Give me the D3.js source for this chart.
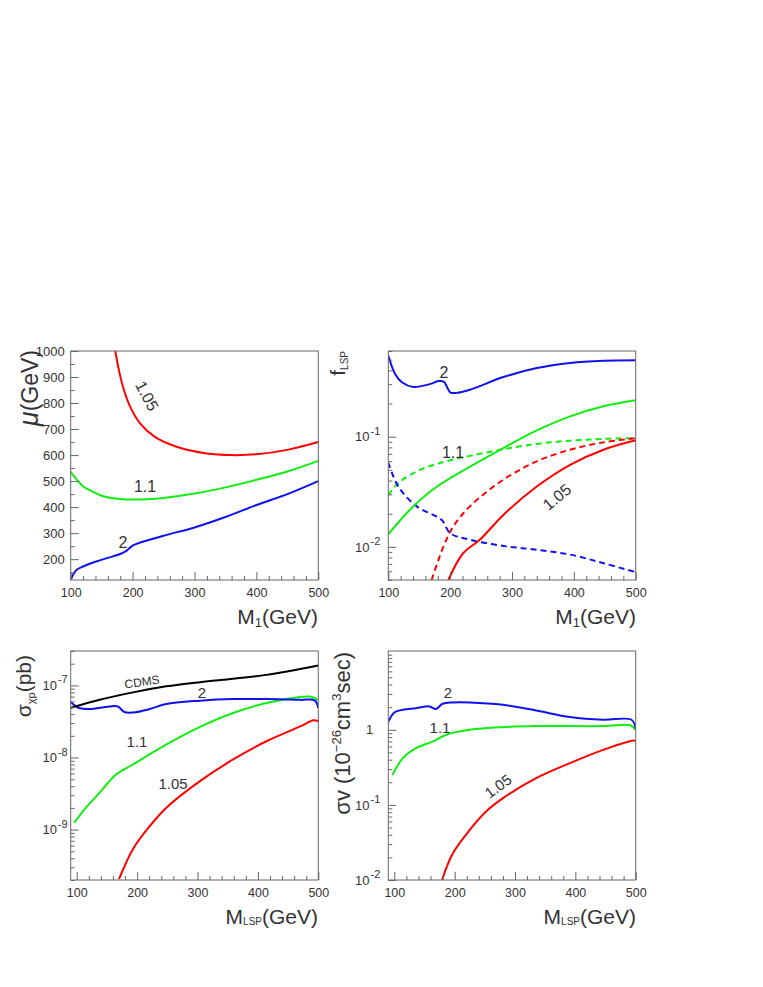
<!DOCTYPE html>
<html lang="en">
<head>
<meta charset="UTF-8">
<title>LSP panels</title>
<script src="https://d3js.org/d3.v7.min.js"></script>
<style>
  body { margin: 0; background: #fff; }
  text { font-family: "Liberation Sans", Arial, Helvetica, sans-serif; fill: #333; }
</style>
</head>
<body>
<div id="chart"></div>
<script>
// ---- data ----
// top-left: mu vs M1
const tlRedX   = [172, 179, 186, 196, 212, 236, 271, 320, 360, 400, 450, 500];
const tlRedY   = [1000, 914, 850, 786, 722, 670, 632, 606, 600, 603, 620, 650];
const tlGreenX = [100, 110, 120, 135, 150, 175, 200, 225, 250, 300, 350, 400, 450, 500];
const tlGreenY = [536, 505, 480, 460, 444, 432, 429, 430, 435, 452, 476, 505, 537, 578];
const tlBlueX  = [100, 105, 110, 120, 140, 160, 180, 190, 200, 210, 250, 300, 350, 400, 450, 500];
const tlBlueY  = [120, 145, 160, 172, 190, 205, 220, 232, 252, 262, 290, 322, 362, 408, 450, 500];

// top-right: f_LSP vs M1 (solid / dashed)
const trBlueX     = [100, 111, 122, 140, 167, 181, 190, 200, 210, 232, 286, 340, 394, 448, 500];
const trBlueY     = [0.545, 0.371, 0.312, 0.283, 0.300, 0.320, 0.315, 0.253, 0.250, 0.267, 0.348, 0.420, 0.468, 0.490, 0.495];
const trGreenX    = [100, 135, 170, 205, 286, 340, 394, 448, 500];
const trGreenY    = [0.013, 0.0217, 0.0325, 0.0436, 0.0789, 0.114, 0.153, 0.189, 0.214];
const trRedX      = [197, 221, 248, 286, 340, 394, 448, 500];
const trRedY      = [0.005, 0.00875, 0.0116, 0.0195, 0.0353, 0.0556, 0.0762, 0.0927];
const trBlueDashX  = [100, 116, 146, 186, 200, 232, 286, 340, 394, 448, 500];
const trBlueDashY  = [0.0584, 0.0354, 0.0233, 0.0176, 0.0133, 0.0116, 0.0102, 0.0094, 0.0085, 0.0071, 0.0059];
const trGreenDashX = [100, 112, 124, 151, 178, 205, 232, 286, 340, 394, 448, 500];
const trGreenDashY = [0.0295, 0.036, 0.041, 0.050, 0.0565, 0.062, 0.067, 0.077, 0.086, 0.092, 0.0955, 0.097];
const trRedDashX   = [170, 189, 205, 232, 286, 340, 394, 448, 500];
const trRedDashY   = [0.005, 0.010, 0.0153, 0.0233, 0.0407, 0.0597, 0.0762, 0.0889, 0.097];

// bottom-left: sigma_chi-p vs M_LSP
const blCdmsX  = [89, 138, 193, 248, 304, 359, 414, 500];
const blCdmsY  = [4.86e-8, 6.34e-8, 8.0e-8, 9.7e-8, 1.11e-7, 1.24e-7, 1.40e-7, 1.89e-7];
const blBlueX  = [89, 104, 121, 154, 168, 179, 193, 221, 248, 304, 359, 414, 470, 494, 500];
const blBlueY  = [6.0e-8, 4.86e-8, 4.7e-8, 5.1e-8, 5.1e-8, 4.27e-8, 4.2e-8, 4.7e-8, 5.52e-8, 6.14e-8, 6.47e-8, 6.47e-8, 6.3e-8, 6.2e-8, 4.86e-8];
const blGreenX = [96, 115, 138, 165, 193, 248, 304, 359, 414, 470, 486, 500];
const blGreenY = [1.25e-9, 2.0e-9, 3.25e-9, 5.8e-9, 8.0e-9, 1.51e-8, 2.66e-8, 4.15e-8, 5.7e-8, 6.9e-8, 7.0e-8, 6.3e-8];
const blRedX   = [170, 193, 221, 248, 304, 359, 414, 470, 492, 500];
const blRedY   = [2.06e-10, 5.35e-10, 1.12e-9, 2.0e-9, 4.7e-9, 9.4e-9, 1.68e-8, 2.7e-8, 3.28e-8, 3.18e-8];

// bottom-right: sigma v vs M_LSP
const brBlueX  = [89, 100, 114, 136, 158, 169, 180, 197, 225, 280, 335, 391, 446, 493, 500];
const brBlueY  = [1.23, 1.70, 1.85, 1.94, 2.05, 1.89, 2.22, 2.31, 2.31, 2.15, 1.81, 1.48, 1.36, 1.36, 1.05];
const brGreenX = [97, 114, 136, 164, 186, 225, 280, 335, 446, 491, 500];
const brGreenY = [0.25, 0.42, 0.57, 0.70, 0.86, 1.0, 1.085, 1.12, 1.12, 1.15, 1.0];
const brRedX   = [179, 197, 225, 252, 280, 335, 391, 446, 496, 500];
const brRedY   = [0.01, 0.0227, 0.0464, 0.0815, 0.123, 0.227, 0.36, 0.54, 0.72, 0.71];

const xTicksMajor = [100, 200, 300, 400, 500];
const muTicks = [200, 300, 400, 500, 600, 700, 800, 900, 1000];

// ---- layout ----
const width = 763, height = 987;
const colors = { red: "#ff0000", green: "#11ee11", blue: "#1111ee", black: "#000" };
const frameColor = "#666";

const svg = d3.select("#chart").append("svg")
  .attr("width", width).attr("height", height);

const zip = (xs, ys) => xs.map((v, i) => [v, ys[i]]);

function makePanel(id, xDomain, yScale, box) {
  const x = d3.scaleLinear().domain(xDomain).range([box.x0, box.x1]);
  const y = yScale.range([box.y1, box.y0]);
  const g = svg.append("g").attr("class", "panel-" + id);
  g.append("clipPath").attr("id", "clip-" + id)
    .append("rect")
    .attr("x", box.x0).attr("y", box.y0)
    .attr("width", box.x1 - box.x0).attr("height", box.y1 - box.y0);
  const plot = g.append("g").attr("clip-path", `url(#clip-${id})`);
  return { x, y, g, plot, box };
}

function frame(p) {
  p.g.append("rect")
    .attr("x", p.box.x0).attr("y", p.box.y0)
    .attr("width", p.box.x1 - p.box.x0).attr("height", p.box.y1 - p.box.y0)
    .attr("fill", "none").attr("stroke", frameColor).attr("stroke-width", 1);
}

function styleAxis(sel, size) {
  sel.select(".domain").remove();
  sel.selectAll("line").attr("stroke", frameColor);
  sel.selectAll("text").attr("font-size", size || 12).attr("fill", "#333")
    .attr("font-family", '"Liberation Sans", Arial, sans-serif');
}

function xAxis(p, minor) {
  const yb = p.box.y1;
  p.g.append("g").attr("transform", `translate(0,${yb})`)
    .call(d3.axisBottom(p.x).tickValues(minor).tickSizeInner(-4).tickSizeOuter(0).tickFormat(""))
    .call(styleAxis);
  p.g.append("g").attr("transform", `translate(0,${yb})`)
    .call(d3.axisBottom(p.x).tickValues(xTicksMajor).tickSizeInner(-8).tickSizeOuter(0)
      .tickPadding(8).tickFormat(d3.format("d")))
    .call(styleAxis, 12.5);
}

function yAxisLinear(p, major, minor, pad) {
  const xl = p.box.x0;
  p.g.append("g").attr("transform", `translate(${xl},0)`)
    .call(d3.axisLeft(p.y).tickValues(minor).tickSizeInner(-4).tickSizeOuter(0).tickFormat(""))
    .call(styleAxis);
  p.g.append("g").attr("transform", `translate(${xl},0)`)
    .call(d3.axisLeft(p.y).tickValues(major).tickSizeInner(-8).tickSizeOuter(0)
      .tickPadding(pad).tickFormat(d3.format("d")))
    .call(styleAxis, 13);
}

// log axis: decades get long ticks, only exponents in `labelled` get a text
function yAxisLog(p, pad, labelled) {
  const xl = p.box.x0;
  const all = p.y.ticks(40);
  const isMajor = d => Math.abs(Math.log10(d) - Math.round(Math.log10(d))) < 1e-6;
  const major = all.filter(d => isMajor(d) && labelled.includes(Math.round(Math.log10(d))));
  const minor = all.filter(d => !major.includes(d));
  p.g.append("g").attr("transform", `translate(${xl},0)`)
    .call(d3.axisLeft(p.y).tickValues(minor).tickSizeInner(-4).tickSizeOuter(0).tickFormat(""))
    .call(styleAxis);
  const ax = p.g.append("g").attr("transform", `translate(${xl},0)`)
    .call(d3.axisLeft(p.y).tickValues(major).tickSizeInner(-8).tickSizeOuter(0)
      .tickPadding(pad).tickFormat(""))
    .call(styleAxis, 13);
  ax.selectAll(".tick text").each(function(d) {
    const e = Math.round(Math.log10(d));
    const t = d3.select(this);
    if (e === 0) {
      t.attr("x", -15).text("1");
      return;
    }
    t.text("10");
    t.append("tspan").attr("dx", 1).attr("dy", "-0.6em").attr("font-size", 11).text(e);
  });
}

function curve(p, pts, color, dashed) {
  const line = d3.line()
    .x(d => p.x(d[0])).y(d => p.y(d[1]))
    .curve(d3.curveCatmullRom.alpha(0.5));
  p.plot.append("path")
    .datum(pts)
    .attr("d", line)
    .attr("fill", "none")
    .attr("stroke", color)
    .attr("stroke-width", 2)
    .attr("stroke-dasharray", dashed ? "6,4" : null);
}

function label(x, y, txt, size, angle) {
  svg.append("text")
    .attr("transform", `translate(${x},${y}) rotate(${angle || 0})`)
    .attr("text-anchor", "middle")
    .attr("dominant-baseline", "central")
    .attr("font-size", size)
    .text(txt);
}

// x axis title: main + subscript + (GeV), right aligned
function xTitle(xr, yb, sub) {
  const t = svg.append("text")
    .attr("x", xr).attr("y", yb)
    .attr("text-anchor", "end")
    .attr("font-size", 21);
  t.append("tspan").text("M");
  t.append("tspan").attr("font-size", sub.length > 1 ? 10 : 13).attr("dy", sub.length > 1 ? 1 : 3).text(sub);
  t.append("tspan").attr("dy", sub.length > 1 ? -1 : -3).text("(GeV)");
}

// ---- panels ----
const tl = makePanel("tl", [100, 500], d3.scaleLinear().domain([120, 1000]),
  { x0: 70.7, x1: 318.3, y0: 351, y1: 580 });
const tr = makePanel("tr", [100, 500], d3.scaleLog().domain([0.005, 0.6]),
  { x0: 388.3, x1: 635.7, y0: 351, y1: 580 });
const bl = makePanel("bl", [90, 500], d3.scaleLog().domain([2e-10, 3e-7]),
  { x0: 70.7, x1: 318.3, y0: 651, y1: 880 });
const br = makePanel("br", [90, 500], d3.scaleLog().domain([0.01, 11.2]),
  { x0: 388.3, x1: 635.7, y0: 651, y1: 880 });

const minor20 = d3.range(100, 501, 20).filter(d => d % 100 !== 0);

// top-left
curve(tl, zip(tlRedX, tlRedY), colors.red);
curve(tl, zip(tlGreenX, tlGreenY), colors.green);
curve(tl, zip(tlBlueX, tlBlueY), colors.blue);
frame(tl);
xAxis(tl, minor20);
yAxisLinear(tl, muTicks, d3.range(150, 1000, 100), 6);

// top-right
curve(tr, zip(trGreenDashX, trGreenDashY), colors.green, true);
curve(tr, zip(trRedDashX, trRedDashY), colors.red, true);
curve(tr, zip(trBlueDashX, trBlueDashY), colors.blue, true);
curve(tr, zip(trGreenX, trGreenY), colors.green);
curve(tr, zip(trRedX, trRedY), colors.red);
curve(tr, zip(trBlueX, trBlueY), colors.blue);
frame(tr);
xAxis(tr, minor20);
yAxisLog(tr, 8, [-2, -1]);

// bottom-left
curve(bl, zip(blGreenX, blGreenY), colors.green);
curve(bl, zip(blRedX, blRedY), colors.red);
curve(bl, zip(blBlueX, blBlueY), colors.blue);
curve(bl, zip(blCdmsX, blCdmsY), colors.black);
frame(bl);
xAxis(bl, minor20);
yAxisLog(bl, 3, [-9, -8, -7]);

// bottom-right
curve(br, zip(brRedX, brRedY), colors.red);
curve(br, zip(brGreenX, brGreenY), colors.green);
curve(br, zip(brBlueX, brBlueY), colors.blue);
frame(br);
xAxis(br, minor20);
yAxisLog(br, 8, [-2, -1, 0]);

// curve labels
label(147, 396, "1.05", 16, 62);
label(145, 486, "1.1", 16);
label(123, 542, "2", 16);

label(444, 372, "2", 16);
label(453, 452, "1.1", 16);
label(557, 497, "1.05", 16, -40);

label(142, 682, "CDMS", 12, -8);
label(202, 692, "2", 15);
label(137, 741, "1.1", 15);
label(173, 783, "1.05", 15);

label(448, 692, "2", 15);
label(440, 727, "1.1", 15);
label(498, 786, "1.05", 15, -36);

// axis titles
xTitle(318, 624, "1");
xTitle(636, 624, "1");
xTitle(318, 924, "LSP");
xTitle(636, 924, "LSP");

// y titles (rotated)
const muT = svg.append("text")
  .attr("transform", "translate(38,350) rotate(-90)")
  .attr("text-anchor", "end").attr("font-size", 23);
muT.append("tspan").attr("font-style", "italic").attr("font-size", 27).text("\u03bc");
muT.append("tspan").text("(GeV)");

const fT = svg.append("text")
  .attr("transform", "translate(345,351) rotate(-90)")
  .attr("text-anchor", "end").attr("font-size", 21);
fT.append("tspan").text("f");
fT.append("tspan").attr("font-size", 10).attr("dy", 3).text("LSP");

const sT = svg.append("text")
  .attr("transform", "translate(31,655) rotate(-90)")
  .attr("text-anchor", "end").attr("font-size", 21);
sT.append("tspan").text("\u03c3");
sT.append("tspan").attr("font-size", 11).attr("dy", 4).text("\u03c7p");
sT.append("tspan").attr("dy", -4).text("(pb)");

const vT = svg.append("text")
  .attr("transform", "translate(350,652) rotate(-90)")
  .attr("text-anchor", "end").attr("font-size", 22);
vT.append("tspan").text("\u03c3v (10");
vT.append("tspan").attr("font-size", 13).attr("dy", -9).text("\u221226");
vT.append("tspan").attr("dy", 9).text("cm");
vT.append("tspan").attr("font-size", 13).attr("dy", -9).text("3");
vT.append("tspan").attr("dy", 9).text("sec)");
</script>
</body>
</html>
